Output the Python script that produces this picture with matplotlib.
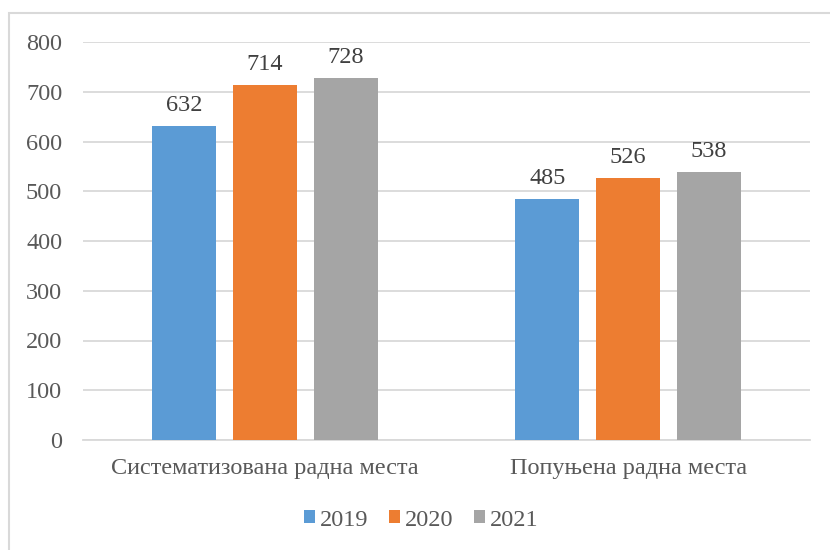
import matplotlib.pyplot as plt
from matplotlib.patches import Rectangle
import numpy as np

categories = ["Систематизована радна места", "Попуњена радна места"]
years = ["2019", "2020", "2021"]
values_2019 = [632, 485]
values_2020 = [714, 526]
values_2021 = [728, 538]
yticks = [0, 100, 200, 300, 400, 500, 600, 700, 800]

colors = ["#5B9BD5", "#ED7D31", "#A5A5A5"]
series = [values_2019, values_2020, values_2021]

plt.rcParams['font.family'] = ['Liberation Serif', 'DejaVu Serif']

W, H = 830, 550
fig = plt.figure(figsize=(W / 100, H / 100), dpi=100)
ax = fig.add_axes([83 / W, 1 - 440 / H, (810 - 83) / W, (440 - 42) / H])

x = np.arange(len(categories))
bw = 64 / 364
step = 81 / 364
for i, (vals, col, yr) in enumerate(zip(series, colors, years)):
    pos = x + (i - 1) * step
    bars = ax.bar(pos, vals, width=bw, color=col, label=yr, zorder=3)
    for b, v in zip(bars, vals):
        ax.text(b.get_x() + b.get_width() / 2, v + 20, str(v), ha='center', va='bottom',
                fontsize=17.5, color='#404040')

ax.set_xlim(-0.5, 1.5)
ax.set_ylim(0, 800)
ax.set_yticks(yticks)
ax.set_yticklabels([str(t) for t in yticks], fontsize=17.5, color='#595959')
ax.set_xticks(x)
ax.set_xticklabels(categories, fontsize=17.5, color='#595959')
ax.tick_params(axis='both', length=0)
ax.tick_params(axis='y', pad=15)
ax.tick_params(axis='x', pad=13)
ax.grid(axis='y', color='#D9D9D9', linewidth=1.3, zorder=0)
for s in ['top', 'right', 'left']:
    ax.spines[s].set_visible(False)
ax.spines['bottom'].set_color('#D9D9D9')
ax.spines['bottom'].set_linewidth(1.3)

leg = fig.legend(loc='center', bbox_to_anchor=(421 / W, 1 - 520 / H), ncol=3, frameon=False,
                 fontsize=17.5, handlelength=0.45, handleheight=0.45, handletextpad=0.2,
                 columnspacing=0.85)
for t in leg.get_texts():
    t.set_color('#595959')

fig.patches.append(Rectangle((9 / W, -0.1), 1.2, 1 - 13 / H + 0.1, transform=fig.transFigure,
                             fill=False, edgecolor='#D9D9D9', linewidth=1.5))

fig.savefig('out.png', dpi=100, facecolor='white')
